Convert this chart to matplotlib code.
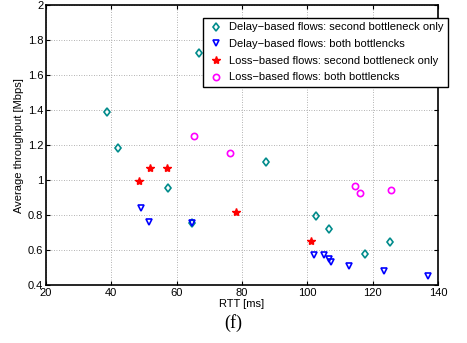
import matplotlib
matplotlib.use("Agg")
import matplotlib.pyplot as plt

# dados
delay_2nd_rtt = [38.6, 42.1, 66.7, 87.3, 57.4, 64.8, 102.6, 106.6, 117.7, 125.4]
delay_2nd_thr = [1.389, 1.185, 1.728, 1.101, 0.953, 0.752, 0.794, 0.718, 0.579, 0.646]

delay_both_rtt = [49.1, 51.4, 64.8, 101.9, 105.2, 106.7, 107.2, 112.8, 123.6, 136.8]
delay_both_thr = [0.838, 0.760, 0.756, 0.570, 0.574, 0.547, 0.532, 0.509, 0.480, 0.450]

loss_2nd_rtt = [48.5, 51.8, 57.0, 78.2, 101.0]
loss_2nd_thr = [0.994, 1.067, 1.067, 0.819, 0.653]

loss_both_rtt = [65.3, 76.4, 114.7, 116.2, 125.5]
loss_both_thr = [1.253, 1.156, 0.967, 0.927, 0.943]

xticks = [20, 40, 60, 80, 100, 120, 140]
yticks = [0.4, 0.6, 0.8, 1.0, 1.2, 1.4, 1.6, 1.8, 2.0]
ylabels = ["0.4", "0.6", "0.8", "1", "1.2", "1.4", "1.6", "1.8", "2"]

plt.rcParams['font.family'] = ['Liberation Sans', 'DejaVu Sans']
plt.rcParams['font.size'] = 8

fig = plt.figure(figsize=(4.67, 3.43), dpi=100)
ax = fig.add_axes([0.0985, 0.169, 0.8395, 0.816])

ax.plot(delay_2nd_rtt, delay_2nd_thr, linestyle='none', marker='d', markersize=4.5,
        markerfacecolor='none', markeredgecolor='#008b8b', markeredgewidth=1.2,
        label='Delay\u2212based flows: second bottleneck only')
ax.plot(delay_both_rtt, delay_both_thr, linestyle='none', marker='v', markersize=5,
        markerfacecolor='none', markeredgecolor='blue', markeredgewidth=1.2,
        label='Delay\u2212based flows: both bottlencks')
ax.plot(loss_2nd_rtt, loss_2nd_thr, linestyle='none', marker='*', markersize=6,
        color='red', label='Loss\u2212based flows: second bottleneck only')
ax.plot(loss_both_rtt, loss_both_thr, linestyle='none', marker='o', markersize=4.5,
        markerfacecolor='none', markeredgecolor='magenta', markeredgewidth=1.2,
        label='Loss\u2212based flows: both bottlencks')

ax.set_xlim(20, 140)
ax.set_ylim(0.4, 2.0)
ax.set_xticks(xticks)
ax.set_yticks(yticks)
ax.set_yticklabels(ylabels)
ax.tick_params(direction='in', top=True, right=True, length=3, labelsize=8, pad=2)
ax.grid(True, linestyle=(0, (1, 2)), color='#999999', linewidth=0.6)
for s in ax.spines.values():
    s.set_linewidth(1.2)

ax.set_xlabel('RTT [ms]', labelpad=1)
ax.set_ylabel('Average throughput [Mbps]', labelpad=3)

leg = ax.legend(loc='upper left', bbox_to_anchor=(0.40, 0.954), fontsize=8,
                frameon=True, fancybox=False, edgecolor='black', framealpha=1,
                borderpad=0.4, labelspacing=0.6, handletextpad=0.5, handlelength=1.5,
                borderaxespad=0)
leg.get_frame().set_linewidth(1.0)

fig.text(0.499, 0.058, '(f)', family='Liberation Serif', fontsize=13, ha='center', va='center')

fig.savefig('out.png', dpi=100)
